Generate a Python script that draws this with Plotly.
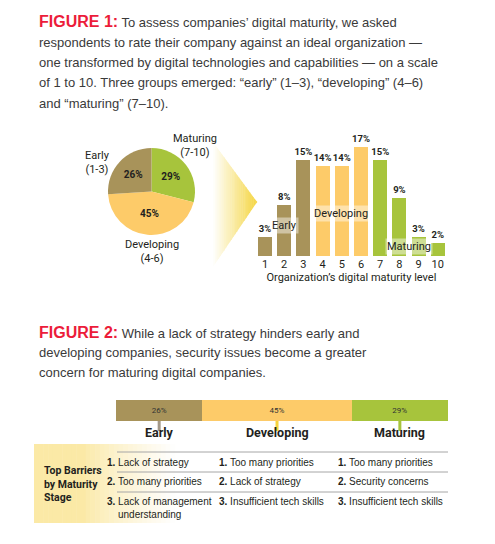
import plotly.graph_objects as go

W, H = 495, 544

# pie: share of companies by maturity group
pie_groups = ["Maturing", "Developing", "Early"]
pie_values = [29, 45, 26]
pie_colors = ["#A7C43C", "#FDCB69", "#A8935A"]

# bars: share of respondents per maturity level
levels = [1, 2, 3, 4, 5, 6, 7, 8, 9, 10]
level_pct = [3, 8, 15, 14, 14, 17, 15, 9, 3, 2]
level_colors = ["#A8935A"] * 3 + ["#FDCB69"] * 3 + ["#A7C43C"] * 4

# figure 2: stage split and top barriers
stages = ["Early", "Developing", "Maturing"]
stage_pct = [26, 45, 29]
stage_colors = ["#A8935A", "#FDCB69", "#A7C43C"]
stage_tick_colors = ["#A39888", "#F6D33C", "#A7C43C"]
barriers = [
    ["Lack of strategy", "Too many priorities", "Lack of management"],
    ["Too many priorities", "Lack of strategy", "Insufficient tech skills"],
    ["Too many priorities", "Security concerns", "Insufficient tech skills"],
]

NARROW = "Roboto, Liberation Sans, sans-serif"
BODY = "Liberation Sans, Arial, Helvetica, sans-serif"
INK = "#231F20"
RED = "#EC1C3A"


def px(x):
    return x / W


def py(y):
    return 1 - y / H


fig = go.Figure()

fig.add_trace(go.Pie(
    labels=pie_groups, values=pie_values, sort=False, direction="clockwise", rotation=0,
    marker=dict(colors=pie_colors, line=dict(width=0)),
    texttemplate="<b>%{value}%</b>", textposition="inside", insidetextorientation="horizontal",
    textfont=dict(family=NARROW, size=10, color=INK),
    domain=dict(x=[px(108), px(195)], y=[py(235), py(148)]),
    showlegend=False, hoverinfo="label+percent",
))

fig.add_trace(go.Bar(
    x=levels, y=level_pct, marker=dict(color=level_colors, line=dict(width=0)),
    text=[f"<b>{v}%</b>" for v in level_pct], textposition="outside", cliponaxis=False,
    constraintext="none", textfont=dict(family=NARROW, size=9.5, color=INK),
    xaxis="x2", yaxis="y2", showlegend=False,
))

for s, v, c in zip(stages, stage_pct, stage_colors):
    fig.add_trace(go.Bar(
        y=[0], x=[v], orientation="h", width=1, marker=dict(color=c, line=dict(width=0)),
        text=[f"{v}%"], textposition="inside", insidetextanchor="middle",
        textfont=dict(family=NARROW, size=8, color="#333333"),
        xaxis="x3", yaxis="y3", showlegend=False, name=s,
    ))

shapes = []

# gradient chevron between pie and bars
n = 24
x0, x1 = 213, 257
ytop, ytip, ybot = 142, 202, 267
for i in range(n):
    a, b = x0 + (x1 - x0) * i / n, x0 + (x1 - x0) * (i + 1) / n + 0.4
    t = (i + 0.5) / n
    col = "rgb({},{},{})".format(int(255 + (245 - 255) * t), int(255 + (214 - 255) * t), int(255 + (66 - 255) * t))
    fa, fb = (a - x0) / (x1 - x0), min(1, (b - x0) / (x1 - x0))
    ya_t, yb_t = ytop + (ytip - ytop) * fa, ytop + (ytip - ytop) * fb
    ya_b, yb_b = ybot + (ytip - ybot) * fa, ybot + (ytip - ybot) * fb
    path = "M{},{} L{},{} L{},{} L{},{} Z".format(px(a), py(ya_t), px(b), py(yb_t), px(b), py(yb_b), px(a), py(ya_b))
    shapes.append(dict(type="path", xref="paper", yref="paper", path=path, fillcolor=col, line=dict(width=0), layer="below"))

# gradient panel behind the row label
m = 30
bx0, bx1 = 34, 175
for i in range(m):
    t = (i + 0.5) / m
    f = 0.0 if t < 0.35 else ((t - 0.35) / 0.65) ** 0.8
    col = "rgb({},{},{})".format(int(251 + 4 * f), int(233 + 22 * f), int(166 + 89 * f))
    shapes.append(dict(type="rect", xref="paper", yref="paper",
                       x0=px(bx0 + (bx1 - bx0) * i / m), x1=px(bx0 + (bx1 - bx0) * (i + 1) / m + 0.5),
                       y0=py(523), y1=py(444), fillcolor=col, line=dict(width=0), layer="below"))

# row rules of the barrier table
for yy in [452, 472, 492]:
    shapes.append(dict(type="line", xref="paper", yref="paper", x0=px(117), x1=px(448),
                       y0=py(yy), y1=py(yy), line=dict(color="#A6A6A6", width=1)))

# stage markers under the stacked bar
mids = []
acc = 0
for v in stage_pct:
    mids.append(acc + v / 2)
    acc += v
for mx, c in zip(mids, stage_tick_colors):
    shapes.append(dict(type="line", xref="x3", yref="paper", x0=mx, x1=mx,
                       y0=py(431), y1=py(421), line=dict(color=c, width=3)))

ann = []


def text(x, y, s, size=13, family=BODY, color=INK, anchor="left", **kw):
    ann.append(dict(x=px(x), y=py(y), xref="paper", yref="paper", text=s, showarrow=False,
                    xanchor=anchor, yanchor="middle", font=dict(family=family, size=size, color=color), **kw))


fig1_lines = [
    "<b><span style='color:%s;font-size:16px'>FIGURE 1:</span></b> To assess companies\u2019 digital maturity, we asked" % RED,
    "respondents to rate their company against an ideal organization \u2014",
    "one transformed by digital technologies and capabilities \u2014 on a scale",
    "of 1 to 10. Three groups emerged: \u201cearly\u201d (1\u20133), \u201cdeveloping\u201d (4\u20136)",
    "and \u201cmaturing\u201d (7\u201310).",
]
for i, s in enumerate(fig1_lines):
    text(37, 22 + 20.3 * i, s, color="#3A3A3A")

fig2_lines = [
    "<b><span style='color:%s;font-size:16px'>FIGURE 2:</span></b> While a lack of strategy hinders early and" % RED,
    "developing companies, security issues become a greater",
    "concern for maturing digital companies.",
]
for i, s in enumerate(fig2_lines):
    text(37, 332 + 20 * i, s, color="#3A3A3A")

# pie group labels
text(97.5, 162, "Early<br>(1-3)", size=11, family=NARROW, anchor="center")
text(195, 145, "Maturing<br>(7-10)", size=11, family=NARROW, anchor="center")
text(152, 251, "Developing<br>(4-6)", size=11, family=NARROW, anchor="center")

# group labels on the bar chart
for lab, gx, gy in [("Early", 2.04, 4.7), ("Developing", 4.98, 6.7), ("Maturing", 8.5, 1.5)]:
    ann.append(dict(x=gx, y=gy, xref="x2", yref="y2", text=lab, showarrow=False,
                    font=dict(family=NARROW, size=11, color=INK), bgcolor="rgba(255,255,255,0.45)",
                    borderpad=1))

# stage headings
for s, mx in zip(stages, mids):
    ann.append(dict(x=mx, y=py(442), xref="x3", yref="paper", text="<b>%s</b>" % s, showarrow=False,
                    font=dict(family=NARROW, size=12.5, color=INK)))

text(42, 484, "<b>Top Barriers<br>by Maturity<br>Stage</b>", size=10.5, family=NARROW, align="left")

col_x = [105, 217, 336]
row_y = [462, 481, 501]
for cx, items in zip(col_x, barriers):
    for r, (ry, item) in enumerate(zip(row_y, items)):
        text(cx, ry, "<b>%d.</b> %s" % (r + 1, item), size=10)
text(116, 514, "understanding", size=10)

fig.update_layout(
    width=W, height=H, margin=dict(l=0, r=0, t=0, b=0),
    paper_bgcolor="white", plot_bgcolor="rgba(0,0,0,0)",
    barmode="stack", bargap=0.27,
    shapes=shapes, annotations=ann,
    xaxis2=dict(domain=[px(255.4), px(447.4)], range=[0.5, 10.5], tickvals=levels, anchor="y2",
                showgrid=False, zeroline=False, showline=False, ticks="",
                tickfont=dict(family=NARROW, size=11, color=INK),
                title=dict(text="Organization\u2019s digital maturity level", standoff=3,
                           font=dict(family=NARROW, size=11, color=INK))),
    yaxis2=dict(domain=[py(256), py(128)], range=[0, 20], visible=False, anchor="x2"),
    xaxis3=dict(domain=[px(116), px(448)], range=[0, 100], visible=False, anchor="y3"),
    yaxis3=dict(domain=[py(421), py(400)], range=[-0.5, 0.5], visible=False, anchor="x3"),
)

fig.write_html("out.html", config={"displayModeBar": False},
               post_script="document.body.style.margin='0';")
